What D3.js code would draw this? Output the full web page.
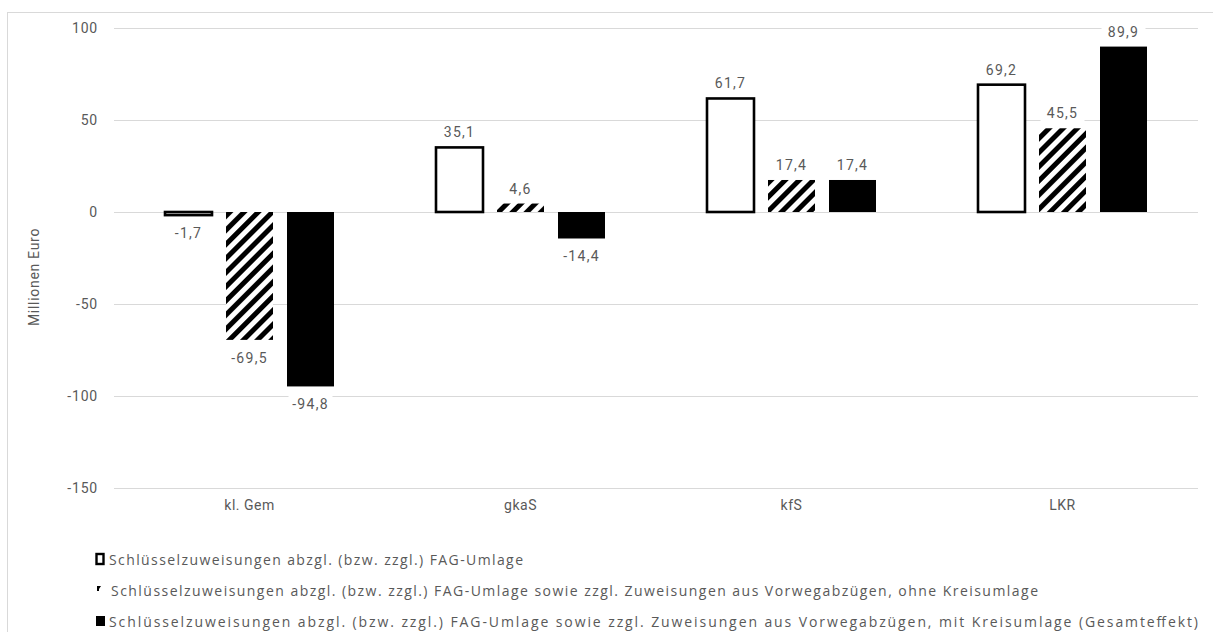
<!DOCTYPE html>
<html><head><meta charset="utf-8">
<script src="https://cdn.jsdelivr.net/npm/d3@7"></script>
<style>
html,body{margin:0;padding:0;background:#fff;}
text{fill:#595959;}
</style></head>
<body><svg id="c" width="1213" height="632"></svg>
<script>
const categories = ["kl. Gem", "gkaS", "kfS", "LKR"];
const seriesNames = [
  "Schlüsselzuweisungen abzgl. (bzw. zzgl.) FAG-Umlage",
  "Schlüsselzuweisungen abzgl. (bzw. zzgl.) FAG-Umlage sowie zzgl. Zuweisungen aus Vorwegabzügen, ohne Kreisumlage",
  "Schlüsselzuweisungen abzgl. (bzw. zzgl.) FAG-Umlage sowie zzgl. Zuweisungen aus Vorwegabzügen, mit Kreisumlage (Gesamteffekt)"
];
const s1 = [-1.7, 35.1, 61.7, 69.2];
const s2 = [-69.5, 4.6, 17.4, 45.5];
const s3 = [-94.8, -14.4, 17.4, 89.9];
const yTicks = [-150, -100, -50, 0, 50, 100];
const yTitle = "Millionen Euro";

const series = [s1, s2, s3];
const svg = d3.select("#c");
const F = "Roboto, 'Liberation Sans', sans-serif";

// pattern
const defs = svg.append("defs");
const pat = defs.append("pattern").attr("id","hatch").attr("patternUnits","userSpaceOnUse")
  .attr("width",10).attr("height",10).attr("patternTransform","rotate(45)");
pat.append("rect").attr("width",10).attr("height",10).attr("fill","#fff");
pat.append("rect").attr("x",0).attr("y",0).attr("width",5).attr("height",10).attr("fill","#000");

// outer border
svg.append("rect").attr("x",7.5).attr("y",12.5).attr("width",1220).attr("height",640)
  .attr("fill","none").attr("stroke","#d9d9d9").attr("stroke-width",1);

const left = 114, right = 1198;
const y = d3.scaleLinear().domain([-150, 100]).range([488, 28]);
const x0 = d3.scaleBand().domain(categories).range([left, right]).padding(0);
const x1 = d3.scaleBand().domain([0,1,2]).range([0,169]).paddingInner(14/61).paddingOuter(0);
const fmt = v => d3.format(".1f")(v).replace(".", ",").replace("\u2212", "-");

// grid
svg.append("g").selectAll("line").data(yTicks).join("line")
  .attr("x1",left).attr("x2",right).attr("y1",d=>Math.round(y(d))+0.5).attr("y2",d=>Math.round(y(d))+0.5)
  .attr("stroke","#d9d9d9").attr("stroke-width",1);

// y axis labels
const yAxis = d3.axisLeft(y).tickValues(yTicks).tickSize(0).tickPadding(0).tickFormat(d=>String(d));
const ga = svg.append("g").attr("transform","translate(98,0)").call(yAxis);
ga.select(".domain").remove();
ga.selectAll("text").style("font-size","14px").style("letter-spacing","0.8px").style("fill","#595959")
  .style("font-family",F);

// x axis labels
const xa = d3.axisBottom(x0).tickSize(0).tickPadding(0);
const gx = svg.append("g").attr("transform","translate(0,500)").call(xa);
gx.select(".domain").remove();
gx.selectAll("text").style("font-size","14px").style("letter-spacing","0.5px").style("fill","#595959")
  .style("font-family",F);

// y title
svg.append("text").attr("transform","translate(39,277) rotate(-90)").attr("text-anchor","middle")
  .style("font-family",F).style("font-size","14px").style("letter-spacing","0.7px").text(yTitle);

// bars
const fills = ["#fff","url(#hatch)","#000"];
series.forEach((vals, si) => {
  const g = svg.append("g");
  g.selectAll("rect").data(vals).join("rect")
    .attr("x",(d,i)=>x0(categories[i]) + x0.bandwidth()/2 - 84.5 + x1(si))
    .attr("width",x1.bandwidth())
    .attr("y",d=>y(Math.max(0,d)))
    .attr("height",d=>Math.abs(y(d)-y(0)))
    .attr("fill",fills[si])
    .attr("stroke",si===0?"#000":"none")
    .attr("stroke-width",si===0?2.6:0);
});

// labels
series.forEach((vals, si) => {
  vals.forEach((v,i) => {
    const cx = x0(categories[i]) + x0.bandwidth()/2 - 84.5 + x1(si) + x1.bandwidth()/2;
    const cy = v >= 0 ? y(v) - 15 : y(v) + 18;
    svg.append("rect").attr("x",cx-22).attr("y",cy-9).attr("width",44).attr("height",18).attr("fill","#fff");
    svg.append("text").attr("x",cx).attr("y",cy).attr("text-anchor","middle").attr("dominant-baseline","central")
      .style("font-family",F).style("font-size","14px").style("letter-spacing","1.3px").text(fmt(v));
  });
});

// legend
const legY = [559, 590, 621];
const legEnd = [523, 1038, 1198];
const legStart = [109, 111, 109];
// marker 1
svg.append("rect").attr("x",96.5).attr("y",legY[0]-5).attr("width",7).attr("height",10)
  .attr("fill","#fff").attr("stroke","#000").attr("stroke-width",2.4);
// marker 2 (tiny hatch fragment)
svg.append("path").attr("d",`M97,${legY[1]-4} L101,${legY[1]-4} L99,${legY[1]-1} L99,${legY[1]+1} L97,${legY[1]+1} Z`).attr("fill","#000");
// marker 3
svg.append("rect").attr("x",96).attr("y",legY[2]-5).attr("width",9).attr("height",10).attr("fill","#000");
seriesNames.forEach((n,i)=>{
  svg.append("text").attr("x",legStart[i]).attr("y",legY[i]).attr("dominant-baseline","central")
    .style("font-family","'Open Sans', sans-serif")
    .style("font-size","14px").attr("textLength",legEnd[i]-legStart[i]).attr("lengthAdjust","spacing").text(n);
});
</script></body></html>
